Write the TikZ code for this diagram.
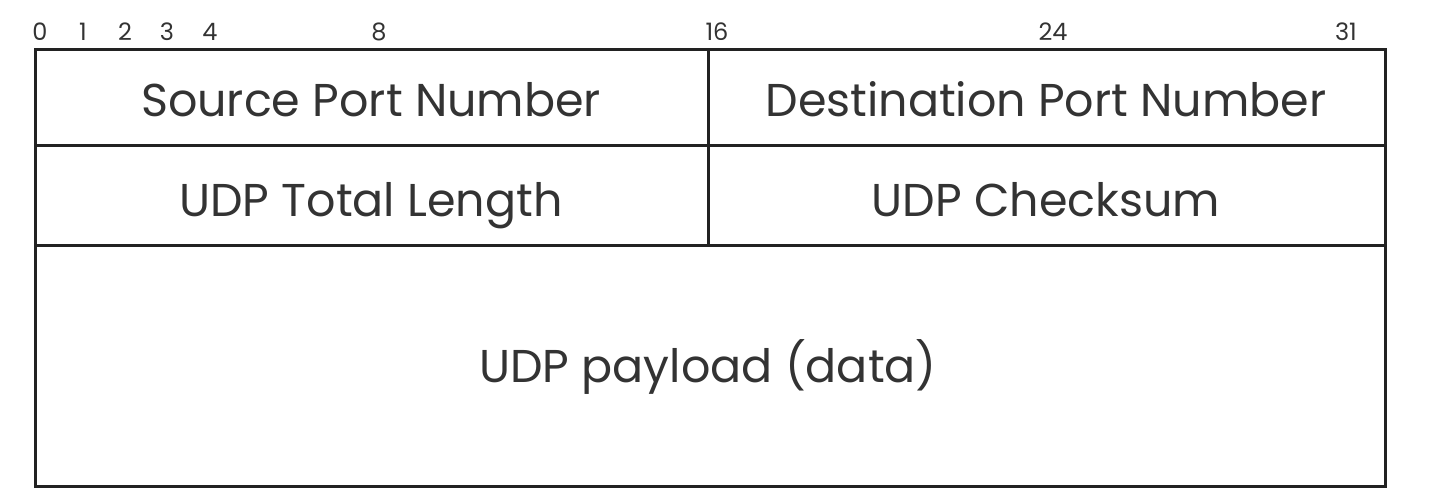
\documentclass[tikz,border=0pt]{standalone}
\usepackage{fontspec}
\setmainfont{Poppins}
\definecolor{ink}{HTML}{222222}
\definecolor{txt}{HTML}{333333}
\begin{document}
\begin{tikzpicture}[x=0.5pt,y=-0.5pt,
  frame/.style={draw=ink,line width=1.5pt},
  field/.style={anchor=base,text=txt,font=\fontsize{23}{28}\selectfont,inner sep=0pt},
  bitnum/.style={anchor=base,text=txt,font=\fontsize{12}{14}\selectfont,inner sep=0pt}]
\useasboundingbox (0,0) rectangle (1440,500);
\coordinate (tl) at (35,49);
\coordinate (br) at (1385,486);
\coordinate (mt) at (708,49);
\coordinate (mb) at (708,245);
\coordinate (r1l) at (35,145);
\coordinate (r1r) at (1385,145);
\coordinate (r2l) at (35,245);
\coordinate (r2r) at (1385,245);
\draw[frame] (tl) rectangle (br);
\draw[frame] (r1l) -- (r1r);
\draw[frame] (r2l) -- (r2r);
\draw[frame] (mt) -- (mb);
\node[field] (src) at (371,116) {Source Port Number};
\node[field] (dst) at (1046,116) {Destination Port Number};
\node[field] (len) at (371,216) {UDP Total Length};
\node[field] (chk) at (1046,216) {UDP Checksum};
\node[field] (pay) at (708,382) {UDP payload (data)};
\node[bitnum] (b0) at (40,40) {0};
\node[bitnum] (b1) at (83,40) {1};
\node[bitnum] (b2) at (125,40) {2};
\node[bitnum] (b3) at (167,40) {3};
\node[bitnum] (b4) at (210,40) {4};
\node[bitnum] (b8) at (379,40) {8};
\node[bitnum] (b16) at (717,40) {16};
\node[bitnum] (b24) at (1053,40) {24};
\node[bitnum] (b31) at (1346,40) {31};
\end{tikzpicture}
\end{document}
